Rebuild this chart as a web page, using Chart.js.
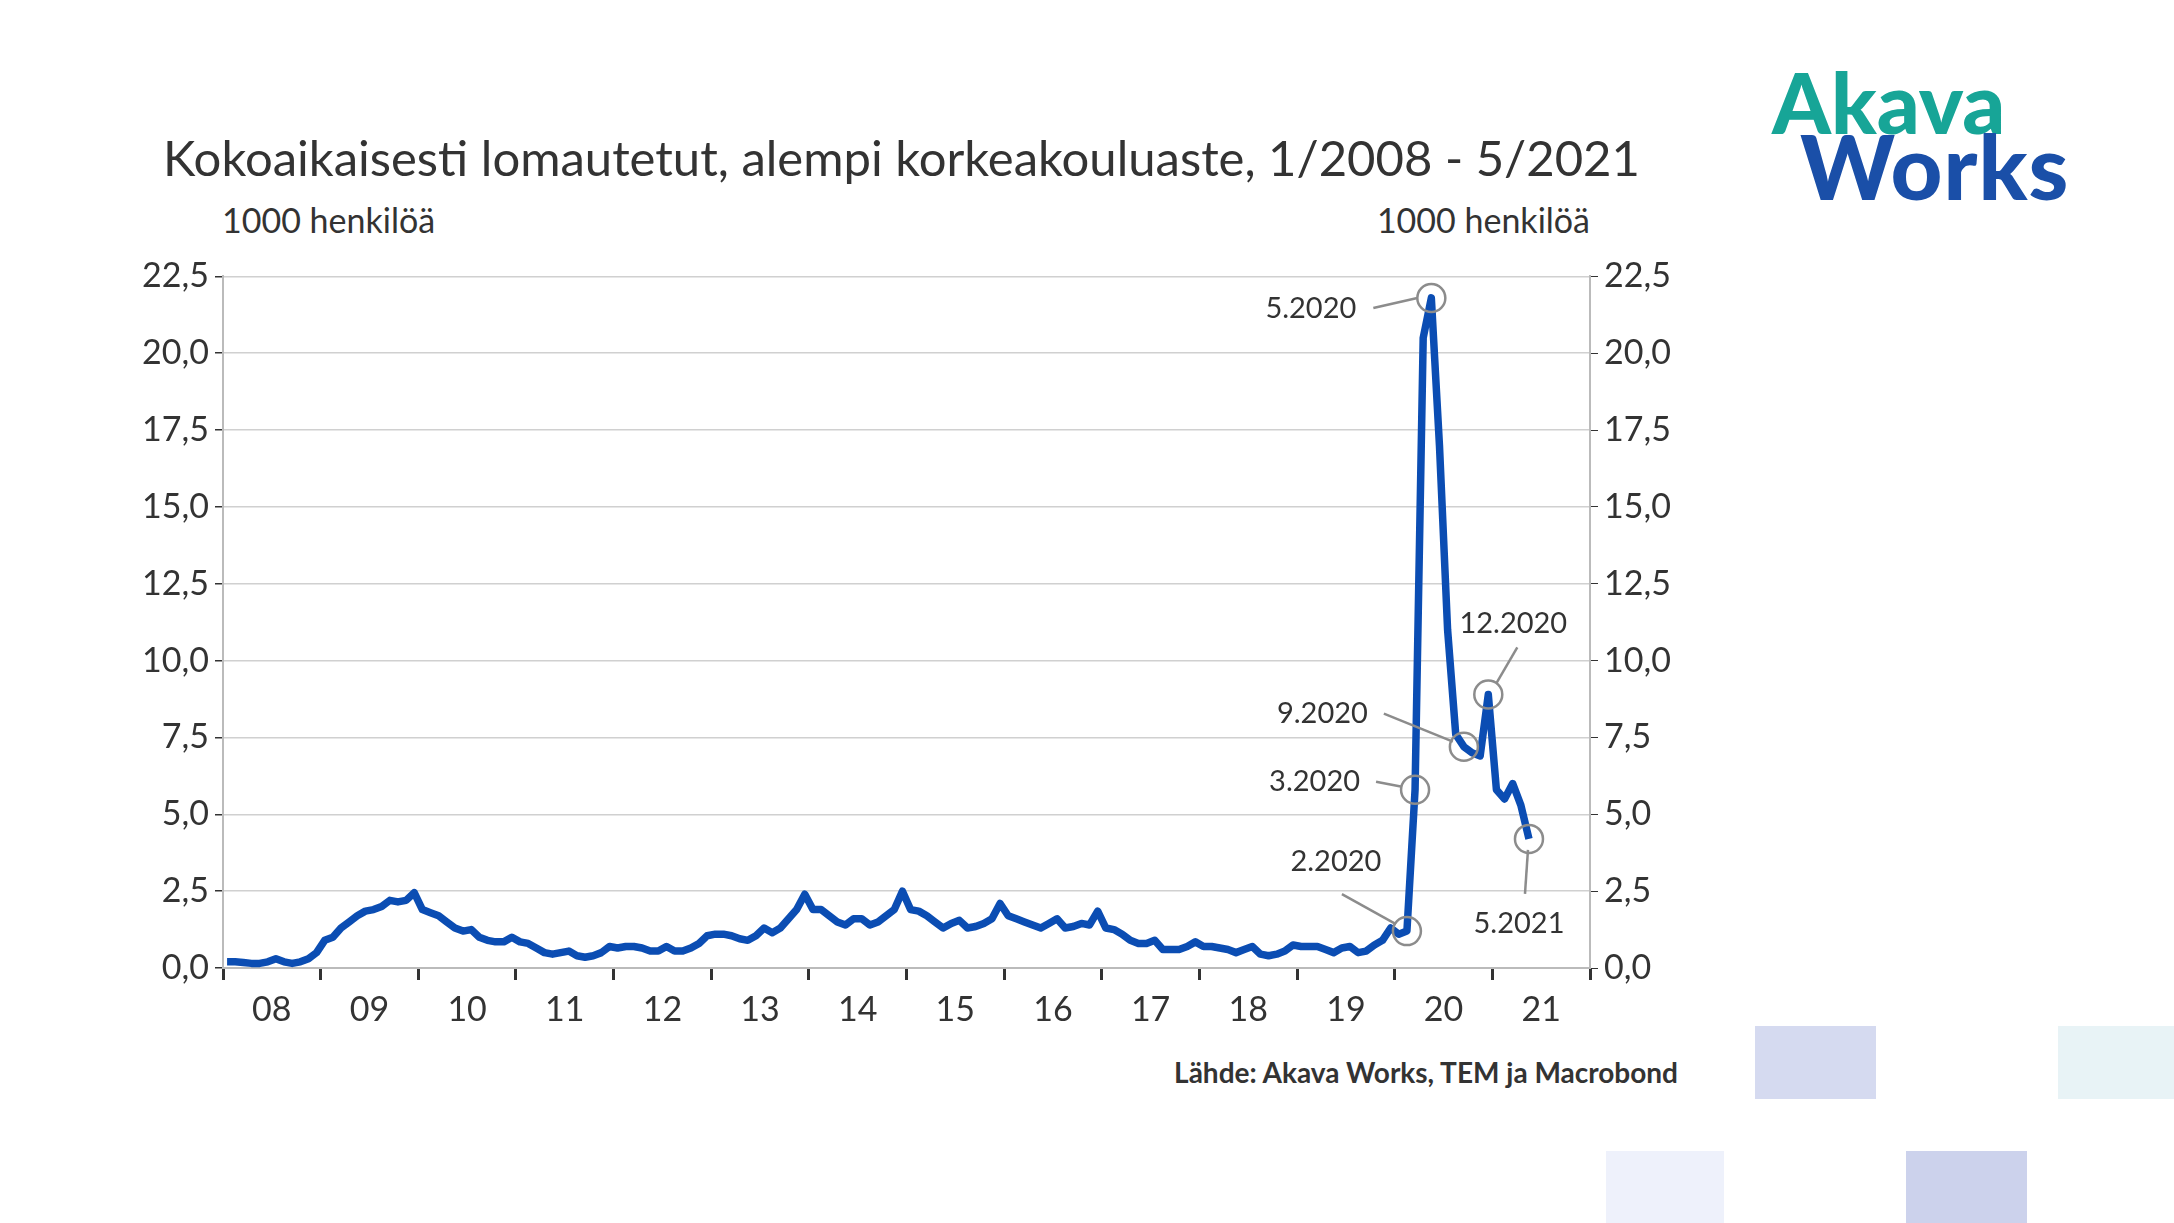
<!DOCTYPE html>
<html>
<head>
<meta charset="utf-8">
<script src="https://cdn.jsdelivr.net/npm/chart.js@4"></script>
<style>
  body { margin: 0; width: 2174px; height: 1223px; background: #fff; position: relative; overflow: hidden; font-family: Lato, "Open Sans", sans-serif; }
  .abs { position: absolute; }
  #title { left: 163px; top: 128px; font-size: 49px; color: #333; white-space: nowrap; }
  .unit { top: 199px; font-size: 34px; color: #333; }
  #src { right: 496px; top: 1055px; font-size: 28px; font-weight: bold; color: #333; }
  .logo { font-weight: 900; letter-spacing: 0px; line-height: 1; }
  .sq { position: absolute; }
</style>
</head>
<body>
<div id="title" class="abs">Kokoaikaisesti lomautetut, alempi korkeakouluaste, 1/2008 - 5/2021</div>
<div class="abs unit" style="left:222px">1000 henkilöä</div>
<div class="abs unit" style="right:584px">1000 henkilöä</div>
<div class="abs logo" style="left:1772px; top:60px; font-size:84px; color:#17a597">Akava</div>
<div class="abs logo" style="left:1800px; top:120px; font-size:90px; color:#1a4fa8; letter-spacing:1px">Works</div>
<div id="src" class="abs">Lähde: Akava Works, TEM ja Macrobond</div>
<div class="sq" style="left:1755px;top:1026px;width:121px;height:73px;background:#d5daf0"></div>
<div class="sq" style="left:2058px;top:1026px;width:116px;height:73px;background:#e8f3f6"></div>
<div class="sq" style="left:1606px;top:1151px;width:118px;height:72px;background:#eef1fb"></div>
<div class="sq" style="left:1906px;top:1151px;width:121px;height:72px;background:#ccd2ec"></div>
<div class="abs" style="left:100px; top:250px; width:1600px; height:793px;"><canvas id="c"></canvas></div>
<script>
// Monthly values, 1000 persons, 1/2008 - 5/2021
const v2008 = [0.2, 0.2, 0.18, 0.15, 0.15, 0.2, 0.3, 0.2, 0.15, 0.2, 0.3, 0.5];
const v2009 = [0.9, 1.0, 1.3, 1.5, 1.7, 1.85, 1.9, 2.0, 2.2, 2.15, 2.2, 2.45];
const v2010 = [1.9, 1.8, 1.7, 1.5, 1.3, 1.2, 1.25, 1.0, 0.9, 0.85, 0.85, 1.0];
const v2011 = [0.85, 0.8, 0.65, 0.5, 0.45, 0.5, 0.55, 0.4, 0.35, 0.4, 0.5, 0.7];
const v2012 = [0.65, 0.7, 0.7, 0.65, 0.55, 0.55, 0.7, 0.55, 0.55, 0.65, 0.8, 1.05];
const v2013 = [1.1, 1.1, 1.05, 0.95, 0.9, 1.05, 1.3, 1.15, 1.3, 1.6, 1.9, 2.4];
const v2014 = [1.9, 1.9, 1.7, 1.5, 1.4, 1.6, 1.6, 1.4, 1.5, 1.7, 1.9, 2.5];
const v2015 = [1.9, 1.85, 1.7, 1.5, 1.3, 1.45, 1.55, 1.3, 1.35, 1.45, 1.6, 2.1];
const v2016 = [1.7, 1.6, 1.5, 1.4, 1.3, 1.45, 1.6, 1.3, 1.35, 1.45, 1.4, 1.85];
const v2017 = [1.3, 1.25, 1.1, 0.9, 0.8, 0.8, 0.9, 0.6, 0.6, 0.6, 0.7, 0.85];
const v2018 = [0.7, 0.7, 0.65, 0.6, 0.5, 0.6, 0.7, 0.45, 0.4, 0.45, 0.55, 0.75];
const v2019 = [0.7, 0.7, 0.7, 0.6, 0.5, 0.65, 0.7, 0.5, 0.55, 0.75, 0.9, 1.3];
const v2020 = [1.1, 1.2, 5.8, 20.5, 21.8, 17.0, 11.0, 7.6, 7.2, 7.0, 6.9, 8.9];
const v2021 = [5.8, 5.5, 6.0, 5.3, 4.2];

const yearLabels = ["08", "09", "10", "11", "12", "13", "14", "15", "16", "17", "18", "19", "20", "21"];
const yTicks = [0, 2.5, 5, 7.5, 10, 12.5, 15, 17.5, 20, 22.5];

// annotated months: label, index into series, label offset, align, line start/end offsets
const notes = [
  { text: "5.2020", i: 148, lx: -75, ly: 11, align: "right", l: [-58, 10, -14, 0] },
  { text: "3.2020", i: 146, lx: -55, ly: -8, align: "right", l: [-39, -8, -13, -3] },
  { text: "2.2020", i: 145, lx: -71, ly: -69, align: "center", l: [-65, -37, -11, -7] },
  { text: "9.2020", i: 152, lx: -96, ly: -33, align: "right", l: [-80, -33, -11, -5] },
  { text: "12.2020", i: 155, lx: 25, ly: -71, align: "center", l: [29, -47, 8, -11] },
  { text: "5.2021", i: 160, lx: -10, ly: 85, align: "center", l: [-4, 55, -1, 11] }
];

const values = [].concat(v2008, v2009, v2010, v2011, v2012, v2013, v2014, v2015, v2016, v2017, v2018, v2019, v2020, v2021);
const points = values.map((y, i) => ({ x: i + 0.5, y: y }));

const notePlugin = {
  id: "notes",
  afterDatasetsDraw(chart) {
    const ctx = chart.ctx;
    const xs = chart.scales.x, ys = chart.scales.y;
    ctx.save();
    notes.forEach(n => {
      const px = xs.getPixelForValue(points[n.i].x);
      const py = ys.getPixelForValue(points[n.i].y);
      ctx.strokeStyle = "#8c8c8c";
      ctx.lineWidth = 2.5;
      ctx.beginPath();
      ctx.arc(px, py, 14, 0, Math.PI * 2);
      ctx.stroke();
      ctx.beginPath();
      ctx.moveTo(px + n.l[0], py + n.l[1]);
      ctx.lineTo(px + n.l[2], py + n.l[3]);
      ctx.stroke();
      ctx.fillStyle = "#333";
      ctx.font = "29px Lato, 'Open Sans', sans-serif";
      ctx.textAlign = n.align;
      ctx.textBaseline = "middle";
      ctx.fillText(n.text, px + n.lx, py + n.ly);
    });
    ctx.restore();
  }
};

const tickFont = { family: "Lato, 'Open Sans', sans-serif", size: 34 };
const yFmt = v => v.toFixed(1).replace(".", ",");

new Chart(document.getElementById("c"), {
  type: "line",
  data: {
    datasets: [{
      data: points,
      borderColor: "#0b4db3",
      borderWidth: 7.5,
      borderJoinStyle: "round",
      pointRadius: 0,
      tension: 0
    }]
  },
  options: {
    responsive: true,
    maintainAspectRatio: false,
    animation: false,
    layout: { padding: { top: 25 } },
    plugins: { legend: { display: false }, tooltip: { enabled: false } },
    scales: {
      x: {
        type: "linear",
        min: 0,
        max: 168,
        afterBuildTicks: s => { s.ticks = []; for (let k = 0; k <= 168; k += 6) s.ticks.push({ value: k }); },
        afterFit: s => { s.height = 75; },
        border: { color: "#bbb", width: 2 },
        grid: {
          drawOnChartArea: false,
          tickLength: 12,
          tickWidth: 3,
          tickColor: c => (c.tick && c.tick.value % 12 === 0) ? "#333" : "rgba(0,0,0,0)"
        },
        ticks: {
          color: "#333",
          font: tickFont,
          autoSkip: false,
          maxRotation: 0,
          padding: 10,
          callback: v => (v % 12 === 6) ? yearLabels[(v - 6) / 12] : ""
        }
      },
      y: {
        min: 0,
        max: 22.5,
        afterBuildTicks: s => { s.ticks = yTicks.map(v => ({ value: v })); },
        afterFit: s => { s.width = 123; },
        border: { color: "#bbb", width: 2 },
        grid: { color: "#d0d0d0", lineWidth: 1.5, tickLength: 8, tickColor: "#333" },
        ticks: { color: "#333", font: tickFont, padding: 6, callback: yFmt }
      },
      y2: {
        position: "right",
        min: 0,
        max: 22.5,
        afterBuildTicks: s => { s.ticks = yTicks.map(v => ({ value: v })); },
        afterFit: s => { s.width = 110; },
        border: { color: "#bbb", width: 2 },
        grid: { drawOnChartArea: false, tickLength: 8, tickColor: "#333" },
        ticks: { color: "#333", font: tickFont, padding: 6, callback: yFmt }
      }
    }
  },
  plugins: [notePlugin]
});
</script>
</body>
</html>
